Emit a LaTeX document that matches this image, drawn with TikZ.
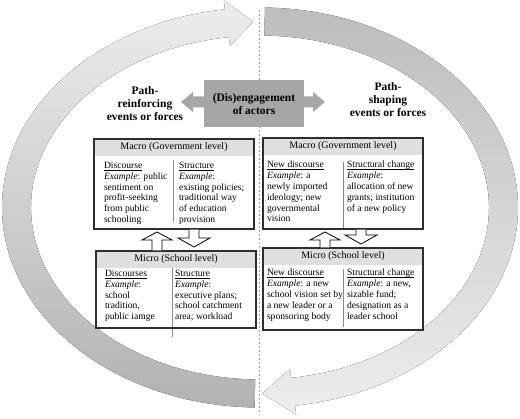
\documentclass[tikz,border=0pt]{standalone}
\usepackage{fontspec}
\setmainfont{Liberation Serif}
\usetikzlibrary{calc}
\definecolor{boxgrey}{HTML}{A6A6A6}
\definecolor{bandgrey}{HTML}{DFDFDF}
\definecolor{framegrey}{HTML}{2E2E2E}
\definecolor{arclight}{HTML}{EDEDED}
\definecolor{arcdark}{HTML}{B2B2B2}
\definecolor{arcdarkR}{HTML}{BDBDBD}
\newcommand{\fL}{\fontsize{11.5}{13}\selectfont\bfseries}
\newcommand{\fH}{\fontsize{10}{12}\selectfont}
\newcommand{\fB}{\fontsize{9.6}{10.8}\selectfont}
\def\BW{160}
\def\HH{17}
% level box: name, left, top, bottom, header, divider x, divider top, divider bottom
\newcommand{\lvlbox}[8]{%
  \fill[white] (#2,#3) rectangle (#2+\BW,#4);
  \fill[bandgrey] (#2,#3) rectangle (#2+\BW,#3+\HH);
  \draw[divline] (#6,#7) -- (#6,#8);
  \draw[frame] (#2,#3) rectangle (#2+\BW,#4);
  \node[txt,font=\fH] (#1-hd) at (#2+\BW/2,#3+\HH/2) {#5};
  \coordinate (#1-n) at (#2+\BW/2,#3);
  \coordinate (#1-s) at (#2+\BW/2,#4);}
% column text: name, left x, first baseline, text
\newcommand{\colnode}[4]{%
  \node[txt,font=\fB,anchor=north west,align=left] (#1) at (#2,#3-7.3) {#4};}
\newcommand{\ul}[1]{\underline{\smash{#1}}\vphantom{#1}}
% hollow arrows between levels: centre x, from, to
\newcommand{\uparr}[3]{%
  \draw[blk] ($(#1,0 |- #2)+(-5,-0.6)$) -- ($(#1,0 |- #3)+(-5,11)$)
    -- ($(#1,0 |- #3)+(-15,11)$) -- ($(#1,0 |- #3)+(0,3)$)
    -- ($(#1,0 |- #3)+(15,11)$) -- ($(#1,0 |- #3)+(5,11)$)
    -- ($(#1,0 |- #2)+(5,-0.6)$);}
\newcommand{\dnarr}[3]{%
  \draw[blk] ($(#1,0 |- #2)+(-5,0.6)$) -- ($(#1,0 |- #3)+(-5,-13)$)
    -- ($(#1,0 |- #3)+(-16,-13)$) -- ($(#1,0 |- #3)+(0,-4)$)
    -- ($(#1,0 |- #3)+(16,-13)$) -- ($(#1,0 |- #3)+(5,-13)$)
    -- ($(#1,0 |- #2)+(5,0.6)$);}

\begin{document}
\begin{tikzpicture}[x=1pt,y=-1pt,
    txt/.style={inner sep=0pt,outer sep=0pt},
    frame/.style={draw=framegrey,line width=1.1pt},
    divline/.style={draw=black!45,line width=0.7pt},
    blk/.style={draw=black,fill=white,line width=0.8pt,line join=miter},
    midline/.style={draw=black!35,line width=0.5pt,dash pattern=on 2.5pt off 1.5pt},
    engbox/.style={fill=boxgrey,minimum width=100pt,minimum height=47pt,
      align=center,inner sep=0pt,font=\fL}]
  \path[use as bounding box] (0,0) rectangle (520,419);
  \coordinate (c) at (260,207.5);

  % Cycle arcs
  \fill[top color=arclight,bottom color=arcdark]
    ($(c)+(91.2:258 and 200)$)
    arc[start angle=91.2,end angle=262.2,x radius=258,y radius=200]
    -- ($(c)+(262.2:266.5 and 209)$) -- ($(c)+(268.4:243.5 and 186)$)
    -- ($(c)+(262.2:220.5 and 163)$) -- ($(c)+(262.2:229 and 172)$)
    arc[start angle=262.2,end angle=91.2,x radius=229,y radius=172] -- cycle;
  \fill[top color=arcdarkR,bottom color=arclight]
    ($(c)+(271.1:258 and 200)$)
    arc[start angle=271.1,end angle=442.2,x radius=258,y radius=200]
    -- ($(c)+(442.2:266.5 and 209)$) -- ($(c)+(449.5:243.5 and 186)$)
    -- ($(c)+(442.2:220.5 and 163)$) -- ($(c)+(442.2:229 and 172)$)
    arc[start angle=442.2,end angle=271.1,x radius=229,y radius=172] -- cycle;

  \draw[midline] (259.5,10) -- (259.5,415);

  % Actors
  \node[txt,align=center,font=\fL] (reinf) at (145,104) {Path-\\reinforcing\\events or forces};
  \node[txt,align=center,font=\fL] (shape) at (388,100) {Path-\\shaping\\events or forces};
  \coordinate (engL) at (181,102);
  \coordinate (engR) at (325,102);
  \fill[boxgrey] (engL) -- ($(engL)+(12,-10)$) -- ($(engL)+(12,-5.5)$)
    -- ($(engR)+(-12,-5.5)$) -- ($(engR)+(-12,-10)$) -- (engR)
    -- ($(engR)+(-12,10)$) -- ($(engR)+(-12,5.5)$)
    -- ($(engL)+(12,5.5)$) -- ($(engL)+(12,10)$) -- cycle;
  \node[engbox] (eng) at (254,104) {(Dis)engagement\\of actors};

  % Level boxes
  \lvlbox{LMa}{94}{139}{229}{Macro (Government level)}{173}{160}{222}
  \lvlbox{RMa}{263}{138}{229}{Macro (Government level)}{343}{162}{229}
  \lvlbox{LMi}{96}{251}{328}{Micro (School level)}{172}{268}{337}
  \lvlbox{RMi}{263}{248}{330}{Micro (School level)}{343}{269}{327}

  % Hollow arrows
  \uparr{157}{LMi-n}{LMa-s}
  \dnarr{194}{LMa-s}{LMi-n}
  \uparr{325}{RMi-n}{RMa-s}
  \dnarr{361}{RMa-s}{RMi-n}

  % Macro texts
  \colnode{LMa-l}{104}{169.5}{\ul{Discourse}\\\emph{Example}: public\\sentiment on\\profit-seeking\\from public\\schooling}
  \colnode{LMa-r}{179}{169.5}{\ul{Structure}\\\emph{Example}:\\existing policies;\\traditional way\\of education\\provision}
  \colnode{RMa-l}{267}{168.5}{\ul{New discourse}\\\emph{Example}: a\\newly imported\\ideology; new\\governmental\\vision}
  \colnode{RMa-r}{347}{168.5}{\ul{Structural change}\\\emph{Example}:\\allocation of new\\grants; institution\\of a new policy}

  % Micro texts
  \colnode{LMi-l}{105}{277.5}{\ul{Discourses}\\\emph{Example}:\\school\\tradition,\\public iamge}
  \colnode{LMi-r}{175}{277.5}{\ul{Structure}\\\emph{Example}:\\executive plans;\\school catchment\\area; workload}
  \colnode{RMi-l}{267}{276.5}{\ul{New discourse}\\\emph{Example}: a new\\school vision set by\\a new leader or a\\sponsoring body}
  \colnode{RMi-r}{347}{276.5}{\ul{Structural change}\\\emph{Example}: a new,\\sizable fund;\\designation as a\\leader school}
\end{tikzpicture}
\end{document}
